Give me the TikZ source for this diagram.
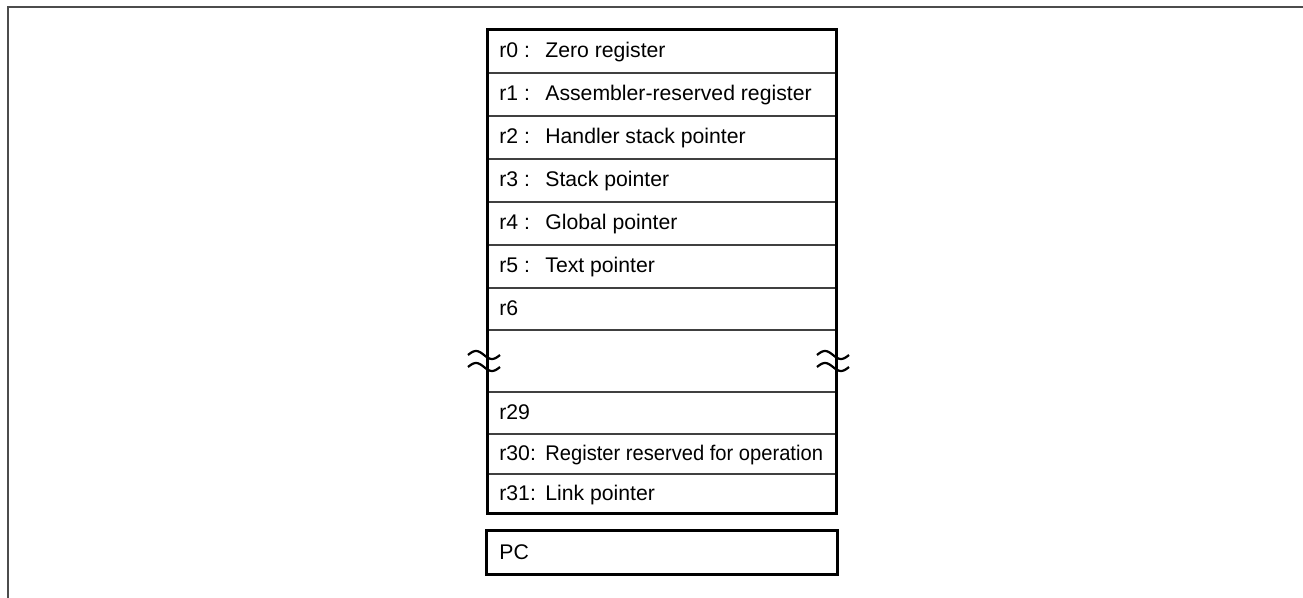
\documentclass[tikz,border=0pt]{standalone}
\usepackage{fontspec}
\setmainfont{Liberation Sans}
\usetikzlibrary{positioning}
\tikzset{
  regtxt/.style={anchor=base west,inner sep=0pt,font=\fontsize{10.6}{12}\selectfont},
  thinrule/.style={line width=0.7pt,black!75},
  thickbox/.style={line width=1.5pt},
  breakmark/.style={line width=1.1pt}
}

\begin{document}
\begin{tikzpicture}[x=0.5pt,y=-0.5pt]
\useasboundingbox (0,0) rectangle (1303,598);
% outer frame
\draw[line width=1.1pt,black!70] (8,598) -- (8,7) -- (1303,7);

% register file
\foreach \y in {73,116,159,202,245,288,330,392,434,474} {
  \draw[thinrule] (487,\y) -- (836,\y);
}
\draw[thickbox] (487,30) rectangle (836,514);

\foreach \i/\n/\t/\y in {0/r0 :/Zero register/51.5,
    1/r1 :/Assembler-reserved register/94.5,
    2/r2 :/Handler stack pointer/137.5,
    3/r3 :/Stack pointer/180.5,
    4/r4 :/Global pointer/223.5,
    5/r5 :/Text pointer/266.5,
    31/r31:/Link pointer/494} {
  \node[regtxt] (name\i) at (499,\y+6.5) {\n};
  \node[regtxt] (desc\i) at (545,\y+6.5) {\t};
}
\node[regtxt] (name6) at (499,315.5) {r6};
\node[regtxt] (name29) at (499,419.5) {r29};
% r30 is squeezed a bit to fit the row
\node[regtxt] (name30) at (499,460.5) {r30:};
\node[regtxt,xscale=0.95,transform shape] (desc30) at (545,460.5) {Register reserved for operation};

% break marks
\foreach \cx in {484,833} {
  \foreach \dy in {-6,6} {
    \draw[breakmark] plot[domain=0:1,samples=30,smooth] ({\cx-16+32*\x},{361+\dy-4*sin(360*\x)});
  }
}

% program counter
\draw[thickbox] (486,531) rectangle (837,575);
\node[regtxt] (pc) at (499,559.5) {PC};
\end{tikzpicture}
\end{document}
